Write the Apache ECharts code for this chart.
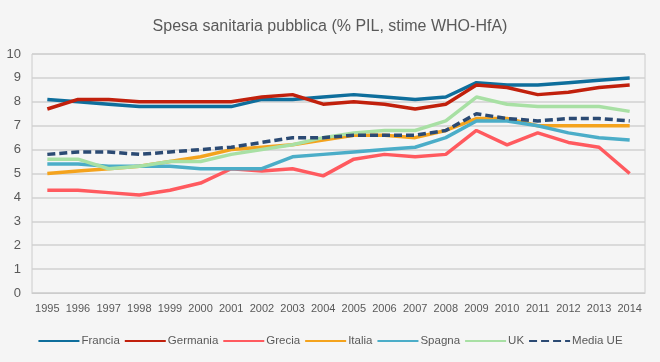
<!DOCTYPE html>
<html>
<head>
<meta charset="utf-8">
<script src="https://cdn.jsdelivr.net/npm/echarts@6/dist/echarts.min.js"></script>
<style>
html,body{margin:0;padding:0;background:#f5f5f5;}
#c{width:660px;height:362px;}
</style>
</head>
<body>
<div id="c"></div>
<script>
var years = ['1995','1996','1997','1998','1999','2000','2001','2002','2003','2004','2005','2006','2007','2008','2009','2010','2011','2012','2013','2014'];
var francia  = [8.1,8.0,7.9,7.8,7.8,7.8,7.8,8.1,8.1,8.2,8.3,8.2,8.1,8.2,8.8,8.7,8.7,8.8,8.9,9.0];
var germania = [7.7,8.1,8.1,8.0,8.0,8.0,8.0,8.2,8.3,7.9,8.0,7.9,7.7,7.9,8.7,8.6,8.3,8.4,8.6,8.7];
var grecia   = [4.3,4.3,4.2,4.1,4.3,4.6,5.2,5.1,5.2,4.9,5.6,5.8,5.7,5.8,6.8,6.2,6.7,6.3,6.1,5.0];
var italia   = [5.0,5.1,5.2,5.3,5.5,5.7,6.0,6.1,6.2,6.4,6.6,6.6,6.5,6.8,7.3,7.3,7.0,7.0,7.0,7.0];
var spagna   = [5.4,5.4,5.3,5.3,5.3,5.2,5.2,5.2,5.7,5.8,5.9,6.0,6.1,6.5,7.2,7.2,7.0,6.7,6.5,6.4];
var uk       = [5.6,5.6,5.2,5.3,5.5,5.5,5.8,6.0,6.2,6.5,6.7,6.8,6.8,7.2,8.2,7.9,7.8,7.8,7.8,7.6];
var mediaUE  = [5.8,5.9,5.9,5.8,5.9,6.0,6.1,6.3,6.5,6.5,6.6,6.6,6.6,6.8,7.5,7.3,7.2,7.3,7.3,7.2];

var FONT = "'Liberation Sans', Arial, sans-serif";
var TXT = '#595959';

function mk(name, data, color, dashed) {
  return {
    name: name, type: 'line', data: data, symbol: 'none', smooth: false,
    lineStyle: { color: color, width: 3.5, type: dashed ? [8, 4] : 'solid' },
    itemStyle: { color: color },
    emphasis: { disabled: true }
  };
}

var chart = echarts.init(document.getElementById('c'), null, { renderer: 'canvas' });
chart.setOption({
  backgroundColor: '#f5f5f5',
  animation: false,
  textStyle: { fontFamily: FONT },
  title: {
    text: 'Spesa sanitaria pubblica (% PIL, stime WHO-HfA)',
    left: 'center', top: 14,
    textStyle: { fontFamily: FONT, fontSize: 16, fontWeight: 'normal', color: TXT }
  },
  legend: {
    top: 330, left: 'center',
    itemWidth: 41, itemHeight: 4, itemGap: 4,
    itemStyle: { opacity: 0 },
    textStyle: { fontFamily: FONT, fontSize: 11.5, color: TXT, padding: [0, 0, 0, -3] },
    data: ['Francia','Germania','Grecia','Italia','Spagna','UK','Media UE']
  },
  grid: { left: 32, right: 15, top: 54, bottom: 69, show: true, borderColor: '#cccccc', borderWidth: 1, backgroundColor: 'transparent' },
  xAxis: {
    type: 'category', data: years, boundaryGap: true,
    axisTick: { show: false },
    axisLine: { show: true, lineStyle: { color: '#cccccc' } },
    axisLabel: { interval: 0, fontFamily: FONT, fontSize: 11, color: TXT, margin: 10 }
  },
  yAxis: {
    type: 'value', min: 0, max: 10, interval: 1,
    axisLine: { show: false }, axisTick: { show: false },
    splitLine: { lineStyle: { color: '#d0d0d0', width: 1.5 } },
    axisLabel: { fontFamily: FONT, fontSize: 13, color: TXT, margin: 11 }
  },
  series: [
    mk('Francia', francia, '#0e6e9c'),
    mk('Germania', germania, '#c1200c'),
    mk('Grecia', grecia, '#ff5a5f'),
    mk('Italia', italia, '#f4a31d'),
    mk('Spagna', spagna, '#4badc8'),
    mk('UK', uk, '#a8e0a4'),
    mk('Media UE', mediaUE, '#2b4a73', true)
  ]
});
</script>
</body>
</html>
